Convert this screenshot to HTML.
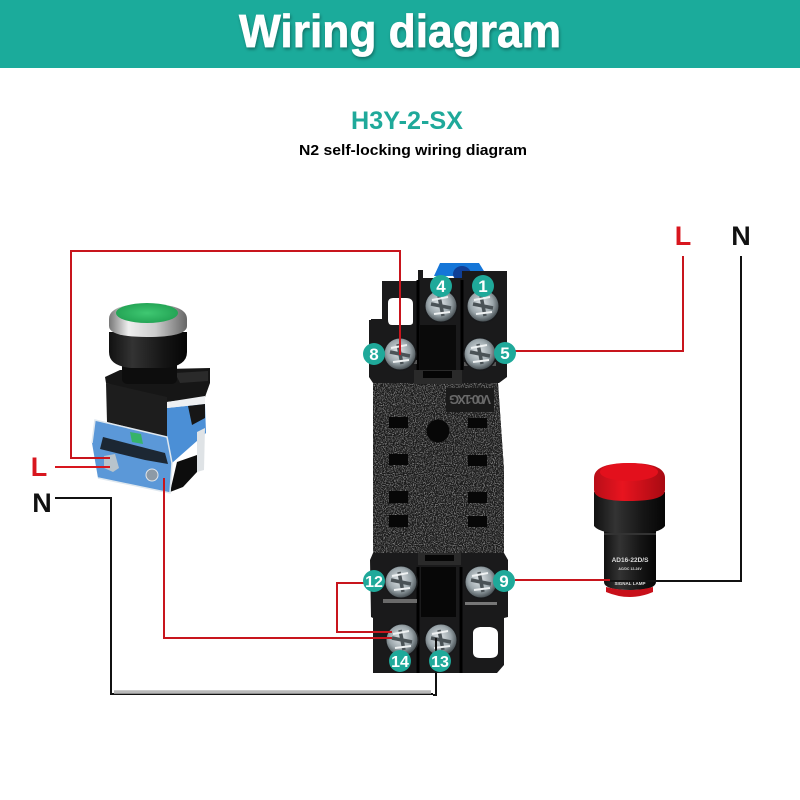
<!DOCTYPE html>
<html><head><meta charset="utf-8"><style>
html,body{margin:0;padding:0;background:#fff;width:800px;height:800px;overflow:hidden}
svg{display:block}
text{font-family:"Liberation Sans",sans-serif;font-weight:bold}
</style></head><body>
<svg width="800" height="800" viewBox="0 0 800 800" xmlns="http://www.w3.org/2000/svg">
<defs>
<filter id="tex" x="0" y="0" width="100%" height="100%"><feTurbulence type="fractalNoise" baseFrequency="0.9" numOctaves="2" seed="3"/><feColorMatrix values="0 0 0 0 0.5  0 0 0 0 0.5  0 0 0 0 0.5  1.5 0 0 0 -0.72"/><feComposite in2="SourceAlpha" operator="in"/><feMerge><feMergeNode in="SourceGraphic"/><feMergeNode/></feMerge></filter>
<filter id="sh" x="-5%" y="-20%" width="110%" height="140%"><feDropShadow dx="1" dy="2" stdDeviation="1.5" flood-color="#000" flood-opacity=".35"/></filter>
<radialGradient id="scr" cx=".45" cy=".42" r=".62"><stop offset="0" stop-color="#e2e7ea"/><stop offset=".6" stop-color="#9aa5aa"/><stop offset="1" stop-color="#3c4448"/></radialGradient>
<linearGradient id="ring" x1="0" x2="1" y1="0" y2="0"><stop offset="0" stop-color="#777"/><stop offset=".25" stop-color="#eee"/><stop offset=".6" stop-color="#ccc"/><stop offset="1" stop-color="#666"/></linearGradient>
<linearGradient id="blk" x1="0" x2="1" y1="0" y2="0"><stop offset="0" stop-color="#111"/><stop offset=".3" stop-color="#333"/><stop offset=".7" stop-color="#151515"/><stop offset="1" stop-color="#050505"/></linearGradient>
<radialGradient id="gr" cx=".5" cy=".5" r=".6"><stop offset="0" stop-color="#3fc872"/><stop offset="1" stop-color="#1f9e50"/></radialGradient>
<linearGradient id="redc" x1="0" x2="1" y1="0" y2="0"><stop offset="0" stop-color="#b80e18"/><stop offset=".4" stop-color="#e8141f"/><stop offset="1" stop-color="#a80a12"/></linearGradient>
<g id="s"><circle r="17" fill="#17181a"/><circle r="15.500" fill="url(#scr)"/><path d="M-10-2 10 2M-2-10 2 10" stroke="#4a5256" stroke-width="3.500"/><path d="M-9-6 7-9M-7 8 9 6" stroke="#eef1f2" stroke-width="2"/></g>
</defs>

<rect width="800" height="68" fill="#1bab9b"/>
<text x="400" y="47" font-size="46" fill="#fff" stroke="#fff" stroke-width=".7" text-anchor="middle" textLength="322" lengthAdjust="spacingAndGlyphs" filter="url(#sh)">Wiring diagram</text>
<text x="407" y="129" font-size="25" fill="#1fa99a" text-anchor="middle" textLength="112" lengthAdjust="spacingAndGlyphs">H3Y-2-SX</text>
<text x="413" y="155" font-size="15" fill="#000" text-anchor="middle" textLength="228" lengthAdjust="spacingAndGlyphs">N2 self-locking wiring diagram</text>

<!-- relay base -->
<path d="M434 276 440 263H479L487 276Z" fill="#1576d8"/>
<ellipse cx="462" cy="274" rx="9" ry="8" fill="#103f96"/>
<path d="M382 281H418V270H423V278H462V271H499V271H507V377L499 383H498L504 470V553L508 560V617L504 618V665L497 673H373V618L371 617L370 560L373 553V383L369 377V320H371V319H382Z" fill="#1a1a1b"/>
<path d="M373 383H498L504 470V553H373Z" fill="#1e1e1e" filter="url(#tex)"/>
<path d="M414 370H462V384H414Z" fill="#2a2a2a"/><rect x="423" y="371" width="29" height="7" fill="#050505"/>
<path d="M418 553H461V565H418Z" fill="#2a2a2a"/><rect x="425" y="555" width="29" height="6" fill="#060606"/>
<rect x="420" y="325" width="36" height="45" fill="#0a0a0a"/>
<rect x="421" y="567" width="35" height="50" fill="#070707"/>
<path d="M418 280V370M462 280V370M418 567V673M461 567V673" stroke="#000" stroke-width="3"/>
<path d="M388 303Q388 298 393 298H406Q413 298 413 304V322Q413 325 409 325H392Q388 325 388 320Z" fill="#fff"/>
<path d="M473 633Q473 628 480 627H490Q498 628 498 634V652Q498 658 490 658H480Q473 658 473 652Z" fill="#fff"/>
<rect x="387" y="360" width="30" height="4" fill="#555"/><rect x="464" y="362" width="32" height="4" fill="#555"/>
<rect x="383" y="599" width="34" height="4" fill="#6a6a6a"/><rect x="465" y="602" width="32" height="3" fill="#777"/>
<g fill="#070707">
<rect x="389" y="417" width="19" height="11"/><rect x="468" y="418" width="19" height="10"/>
<rect x="389" y="454" width="19" height="11"/><rect x="468" y="455" width="19" height="11"/>
<rect x="389" y="491" width="19" height="12"/><rect x="468" y="492" width="19" height="11"/>
<rect x="389" y="515" width="19" height="12"/><rect x="468" y="516" width="19" height="11"/>
<circle cx="438" cy="431" r="11.500"/>
</g>
<rect x="446" y="388" width="48" height="24" fill="#1a1a1a"/>
<text x="470" y="404" font-size="13" fill="#6a6a6a" text-anchor="middle" transform="rotate(180 470 399.500)" textLength="42">V00-1XG</text>

<use href="#s" x="441" y="306"/><use href="#s" x="483" y="306"/>
<use href="#s" x="400" y="354"/><use href="#s" x="480" y="354"/>
<use href="#s" x="401" y="582"/><use href="#s" x="481" y="582"/>
<use href="#s" x="402" y="640"/><use href="#s" x="441" y="640"/>

<!-- push button -->
<path d="M95 420 167 437 172 463 170 493 98 478 92 443Z" fill="#5b98d8"/>
<path d="M167 408 205 404 206 433 172 463 167 437Z" fill="#4b8fd6"/>
<path d="M177 462 197 455 197 472 183 487 170 492Z" fill="#0d0d0d"/>
<path d="M197 432 205 428 204 470 197 472Z" fill="#dfe3e6"/>
<path d="M105 377 120 370 210 368 210 383 205 397 167 402 106 383Z" fill="#161616"/>
<path d="M106 383 167 397 167 437 107 422Z" fill="#1d1d1d"/>
<path d="M167 402 205 396 205 404 167 408Z" fill="#eef0f2"/>
<path d="M188 406 205 404 205 418 192 425Z" fill="#161616"/>
<path d="M175 373 208 371 208 381 180 383Z" fill="#2a2a2a"/>
<rect x="122" y="360" width="55" height="24" rx="5" fill="#0d0d0d"/>
<path d="M109 332H187V352Q187 366 165 368H131Q109 366 109 352Z" fill="url(#blk)"/>
<path d="M109 319Q109 304 147 304 187 304 187 319V326Q187 337 147 337 109 337 109 326Z" fill="url(#ring)"/>
<ellipse cx="147" cy="313" rx="31" ry="10" fill="url(#gr)"/>
<path d="M103 437 165 453 168 464 145 460 100 449Z" fill="#1c2733"/>
<path d="M130 432 141 434 143 444 132 442Z" fill="#36b36a"/>
<path d="M104 456 115 454 119 468 113 472 104 468Z" fill="#b8c4cc"/>
<circle cx="152" cy="475" r="6" fill="#8d9aa6" stroke="#e2e6ea"/>
<path d="M92 443 95 420 167 437 172 463 170 493 98 478" fill="none" stroke="#dfe8ef" stroke-width="1.500"/>

<!-- lamp -->
<path d="M604 525H656V582Q656 590 630 590 604 590 604 582Z" fill="url(#blk)"/>
<path d="M606 587Q630 593 653 587V592Q630 602 606 592Z" fill="#c8101a"/>
<path d="M594 492H665V526Q660 534 630 534 600 534 594 526Z" fill="url(#blk)"/>
<path d="M594 478Q594 463 629 463 665 463 665 478V490Q665 501 629 501 594 501 594 490Z" fill="url(#redc)"/>
<ellipse cx="629" cy="472" rx="29" ry="9" fill="#e3101c"/>
<rect x="604" y="533" width="52" height="2" fill="#333"/>
<g fill="#ddd" text-anchor="middle">
<text x="630" y="562" font-size="6.500">AD16-22D/S</text>
<text x="630" y="570" font-size="3.500">AC/DC 12-24V</text>
<text x="630" y="585" font-size="4.500">SIGNAL LAMP</text>
</g>

<!-- wires -->
<g fill="none" stroke-linejoin="miter" stroke-width="2">
<path d="M400 355V251H71V458H110" stroke="#c8151d"/>
<path d="M55 467H110" stroke="#d8161e"/>
<path d="M164 478V638H392" stroke="#c8151d"/>
<path d="M365 583H337V632H392" stroke="#c8151d"/>
<path d="M515 351H683V256" stroke="#c8151d"/>
<path d="M515 580H610" stroke="#c8151d"/>
<path d="M610 581H741V256" stroke="#111"/>
<path d="M55 498H111V694H433" stroke="#111"/>
<path d="M114 692H431" stroke="#b9b9b9" stroke-width="3.500"/>
<path d="M433 695H436V638" stroke="#111"/>
</g>

<!-- badges -->
<g fill="#1fa99a">
<circle cx="441" cy="286" r="11"/><circle cx="483" cy="286" r="11"/>
<circle cx="374" cy="354" r="11"/><circle cx="505" cy="353" r="11"/>
<circle cx="374" cy="581" r="11"/><circle cx="504" cy="581" r="11"/>
<circle cx="400" cy="661" r="11"/><circle cx="440" cy="661" r="11"/>
</g>
<g fill="#fff" font-size="17" text-anchor="middle">
<text x="441" y="292">4</text><text x="483" y="292">1</text>
<text x="374" y="360">8</text><text x="505" y="359">5</text>
<text x="374" y="587" font-size="16">12</text><text x="504" y="587">9</text>
<text x="400" y="667" font-size="16">14</text><text x="440" y="667" font-size="16">13</text>
</g>

<g font-size="27" text-anchor="middle">
<text x="683" y="245" fill="#d8161e">L</text>
<text x="741" y="245" fill="#111">N</text>
<text x="39" y="476" fill="#d8161e">L</text>
<text x="42" y="512" fill="#111">N</text>
</g>
</svg>
</body></html>
